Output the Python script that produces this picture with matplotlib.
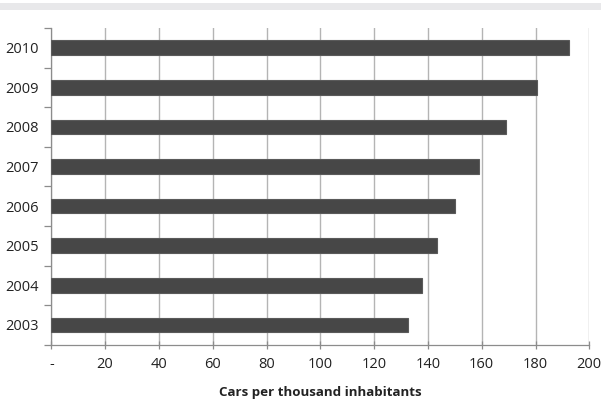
import matplotlib
matplotlib.use("Agg")
import matplotlib.pyplot as plt
from matplotlib.patches import Rectangle
import numpy as np

years = ["2003", "2004", "2005", "2006", "2007", "2008", "2009", "2010"]
cars_per_thousand = [132.5, 137.7, 143.4, 150.2, 159.1, 169.2, 180.4, 192.4]
x_ticks = [0, 20, 40, 60, 80, 100, 120, 140, 160, 180, 200]
x_tick_labels = ["-", "20", "40", "60", "80", "100", "120", "140", "160", "180", "200"]

plt.rcParams['font.family'] = ['Open Sans', 'DejaVu Sans']

W, H = 601, 404
fig = plt.figure(figsize=(W / 100, H / 100), dpi=100)

# light band across the top
fig.patches.append(Rectangle((0, 1 - 10 / H), 1, 7 / H, transform=fig.transFigure,
                             facecolor="#e8e8ea", edgecolor="none", zorder=0))

left, right, top, bottom = 51.3, 589.3, 28, 344.7
ax = fig.add_axes([left / W, 1 - bottom / H, (right - left) / W, (bottom - top) / H])

y = np.arange(len(years))
ax.barh(y, cars_per_thousand, height=0.37, color="#474747",
        edgecolor="#5a5a5a", linewidth=0.8, zorder=3)

ax.set_xlim(0, 200)
ax.set_ylim(-0.5, len(years) - 0.5)

ax.set_xticks(x_ticks)
ax.set_xticklabels(x_tick_labels, fontsize=10.5, color="#222222")
ax.set_yticks(y)
ax.set_yticklabels(years, fontsize=10.5, color="#222222")
ax.set_yticks(np.arange(-0.5, len(years)), minor=True)

ax.tick_params(axis="y", which="major", length=0, pad=9)
ax.tick_params(axis="y", which="minor", length=5, direction="out", color="#8c8c8c", width=0.9)
ax.tick_params(axis="x", which="major", length=6, direction="inout", color="#8c8c8c",
               width=0.9, pad=6)

ax.grid(axis="x", color="#b4b4b4", linewidth=1.0, zorder=0)
ax.set_axisbelow(True)

for side in ("top", "right"):
    ax.spines[side].set_visible(False)
for side in ("left", "bottom"):
    ax.spines[side].set_color("#8c8c8c")
    ax.spines[side].set_linewidth(0.9)

ax.set_xlabel("Cars per thousand inhabitants", fontsize=9.6, fontweight="bold",
              color="#222222", labelpad=10)

fig.savefig("out.png", dpi=100)
